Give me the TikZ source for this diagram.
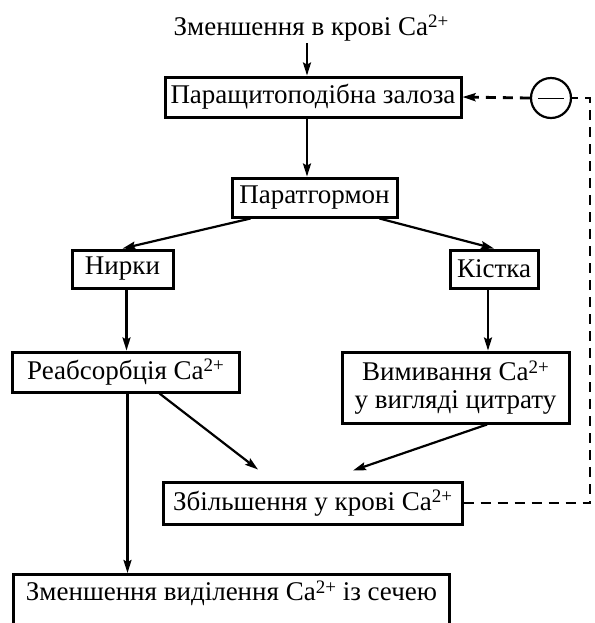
\documentclass[tikz,border=0pt]{standalone}
\usepackage{fontspec}
\setmainfont{Liberation Serif}
\usetikzlibrary{arrows.meta, positioning, calc}

\newcommand{\Ca}{Ca\raisebox{0.6ex}{\fontsize{9.5}{9.5}\selectfont 2+}}

\tikzset{
    % Base Box Style
    box/.style={
        rectangle,
        draw=black,
        line width=1.5pt,
        inner sep=2pt,
        text centered,
        font=\fontsize{13.5}{14}\selectfont
    },
    % Arrow & Line Styles
    arrow/.style={-{Stealth[length=6.5pt, width=4pt, inset=1pt]}, line width=1.1pt},
    feedback/.style={line width=1.4pt, dash pattern=on 5pt off 3.5pt},
    minusSign/.style={circle, draw=black, line width=1.1pt, minimum size=20pt, inner sep=0pt}
}

\begin{document}
\begin{tikzpicture}[x=0.5pt, y=-0.5pt]
    \useasboundingbox (0,0) rectangle (595,623);

    % --- Top chain ---
    \node (start) [font=\fontsize{13.5}{14}\selectfont, inner sep=1pt] at (311,28) {Зменшення в крові \Ca};
    \node (gland) [box, minimum width=148pt, minimum height=20pt] at (313,97) {Паращитоподібна залоза};
    \node (pth) [box, minimum width=82.5pt, minimum height=19.5pt] at (314.5,197.5) {Паратгормон};

    % --- Target organs ---
    \node (kidney) [box, minimum width=50.5pt, minimum height=19pt] at (122.5,269) {Нирки};
    \node (bone) [box, minimum width=44pt, minimum height=19pt] at (494,269) {Кістка};

    \node (reabs) [box, minimum width=113.5pt, minimum height=20pt] at (125.5,372) {Реабсорбція \Ca};
    \node (wash) [box, minimum width=113.5pt, minimum height=35.5pt, align=center] at (455.5,387.5) {Вимивання \Ca\\у вигляді цитрату};

    % --- Results ---
    \node (rise) [box, minimum width=149.5pt, minimum height=21pt] at (312.5,503) {Збільшення у крові \Ca};
    \node (excr) [box, anchor=north west, minimum width=218pt, text height=11pt, text depth=20pt] at (12,573) {Зменшення виділення \Ca{} із сечею};

    % --- Arrows ---
    \draw [arrow] ([xshift=-2pt]start.south) -- ([xshift=-2pt]start.south |- gland.north);
    \draw [arrow] ([xshift=-3pt]gland.south) -- ([xshift=-3pt]gland.south |- pth.north);
    \draw [arrow] ([xshift=10pt]pth.south west) -- (kidney.north);
    \draw [arrow] ([xshift=-9.5pt]pth.south east) -- (bone.north);
    \draw [arrow] ([xshift=2pt]kidney.south) -- ([xshift=2pt]kidney.south |- reabs.north);
    \draw [arrow] ([xshift=-3pt]bone.south) -- ([xshift=-3pt]bone.south |- wash.north);
    \draw [arrow] ([xshift=17pt]reabs.south) -- ([shift={(-54.5,-11)}]rise.north);
    \draw [arrow] ([xshift=15.75pt]wash.south) -- ([shift={(40.5,-10)}]rise.north);
    \draw [arrow] ([xshift=1pt]reabs.south) -- ([xshift=1pt]reabs.south |- excr.north);

    % --- Negative feedback loop ---
    \node (neg) [minusSign] at (551,98) {};
    \draw [line width=0.5pt] ([xshift=-6.5pt]neg.center) -- ([xshift=6.5pt]neg.center);
    \coordinate (turn) at (590,98);
    \draw [feedback] (rise.east) -| (turn) -- (neg.east);
    \draw [arrow, feedback] (neg.west) -- (gland.east);

\end{tikzpicture}
\end{document}
